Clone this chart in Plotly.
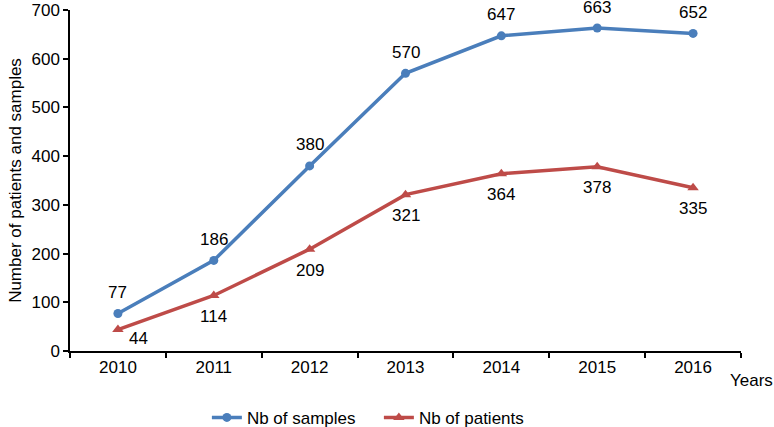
import plotly.graph_objects as go

years = ["2010", "2011", "2012", "2013", "2014", "2015", "2016"]
samples = [77, 186, 380, 570, 647, 663, 652]
patients = [44, 114, 209, 321, 364, 378, 335]
y_ticks = [0, 100, 200, 300, 400, 500, 600, 700]

blue = "#4A7EBB"
red = "#BE4B48"
font = "Liberation Sans, Arial, sans-serif"
fs = 17

fig = go.Figure()
fig.add_trace(go.Scatter(
    x=years, y=samples, name="Nb of samples", mode="lines+markers",
    line=dict(color=blue, width=3.5), marker=dict(symbol="circle", size=9, color=blue),
))
fig.add_trace(go.Scatter(
    x=years, y=patients, name="Nb of patients", mode="lines+markers",
    line=dict(color=red, width=3.5), marker=dict(symbol="triangle-up", size=10, color=red),
))

annotations = []
for i, v in enumerate(samples):
    annotations.append(dict(x=i, y=v, text=str(v), showarrow=False, yshift=21,
                            font=dict(size=fs, color="black", family=font)))
for i, v in enumerate(patients):
    if i == 0:
        annotations.append(dict(x=i, y=v, text=str(v), showarrow=False, yshift=-9, xshift=21,
                                font=dict(size=fs, color="black", family=font)))
    else:
        annotations.append(dict(x=i, y=v, text=str(v), showarrow=False, yshift=-21,
                                font=dict(size=fs, color="black", family=font)))
annotations.append(dict(xref="paper", yref="paper", x=1.0, y=0, xanchor="left", yanchor="middle",
                        xshift=-13, yshift=-29, text="Years", showarrow=False,
                        font=dict(size=fs, color="black", family=font)))

fig.update_layout(
    width=774, height=427,
    margin=dict(l=70, r=33, t=10, b=76, autoexpand=False),
    plot_bgcolor="white", paper_bgcolor="white",
    font=dict(family=font, size=fs, color="black"),
    showlegend=True,
    legend=dict(orientation="h", x=0.204, xanchor="left", y=-0.196, yanchor="middle",
                font=dict(size=fs), tracegroupgap=0, entrywidth=127, entrywidthmode="pixels"),
    annotations=annotations,
    xaxis=dict(type="category", range=[-0.5, 6.5], showline=True, linecolor="black", linewidth=1.5,
               ticks="outside", tickson="boundaries", ticklen=5, tickcolor="black", tickwidth=1.5,
               showgrid=False, zeroline=False, tickfont=dict(size=fs), automargin=False),
    yaxis=dict(range=[0, 700], tickvals=y_ticks, showline=True, linecolor="black", linewidth=1.5,
               ticks="outside", ticklen=5, tickcolor="black", tickwidth=1.5,
               showgrid=False, zeroline=False, tickfont=dict(size=fs), automargin=False,
               title=dict(text="Number of patients and samples", font=dict(size=fs), standoff=6)),
)

fig.write_html("out.html", config={"displayModeBar": False},
               post_script="document.body.style.margin='0';document.body.style.overflow='hidden';")
